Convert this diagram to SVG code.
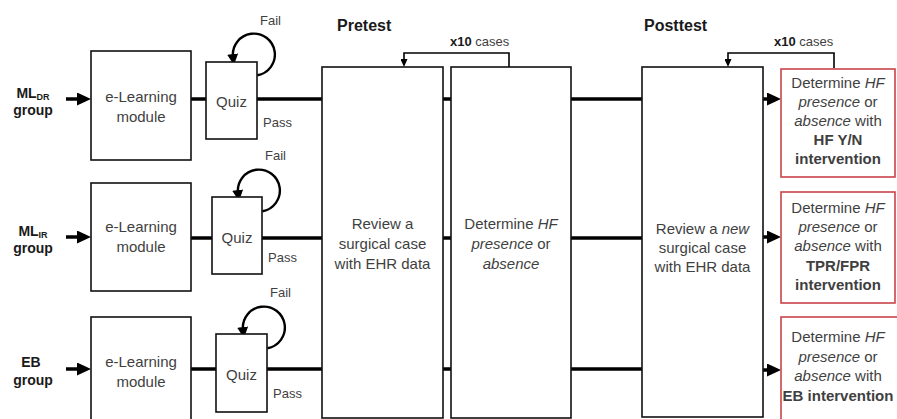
<svg xmlns="http://www.w3.org/2000/svg" width="897" height="419" viewBox="0 0 897 419">
<defs>
<style>
.box{fill:#fff;stroke:#111;stroke-width:1.6}
.rbox{fill:#fff;stroke:#c9444a;stroke-width:1.6}
.t{font-family:"Liberation Sans",Arial,sans-serif;font-size:15px;fill:#3f3f3f;text-anchor:middle}
.s{font-family:"Liberation Sans",Arial,sans-serif;font-size:13px;fill:#3f3f3f}
.g{font-family:"Liberation Sans",Arial,sans-serif;font-size:14px;font-weight:bold;fill:#1a1a1a;text-anchor:middle}
.h{font-family:"Liberation Sans",Arial,sans-serif;font-size:16px;font-weight:bold;fill:#1a1a1a}
.thick{stroke:#000;stroke-width:3.5;fill:none}
.thin{stroke:#000;stroke-width:1.6;fill:none}
.loop{stroke:#000;stroke-width:2.4;fill:none}
</style>
<marker id="big" viewBox="0 0 14 13" refX="4" refY="6.5" markerWidth="14" markerHeight="13" markerUnits="userSpaceOnUse" orient="auto">
<path d="M0,0 L14,6.5 L0,13 z" fill="#000"/>
</marker>
<marker id="small" viewBox="0 0 8 7" refX="2" refY="3.5" markerWidth="8" markerHeight="7" markerUnits="userSpaceOnUse" orient="auto">
<path d="M0,0 L8,3.5 L0,7 z" fill="#000"/>
</marker>
<marker id="loopHead" viewBox="0 0 11 11" refX="3" refY="5.5" markerWidth="11" markerHeight="11" markerUnits="userSpaceOnUse" orient="auto">
<path d="M0,0 L11,5.5 L0,11 z" fill="#000"/>
</marker>
</defs>
<rect width="897" height="419" fill="#fff"/>

<g id="connectors">
<!-- row 1 -->
<line class="thick" x1="66" y1="99" x2="81" y2="99" marker-end="url(#big)"/>
<line class="thick" x1="191" y1="99" x2="206" y2="99"/>
<line class="thick" x1="257" y1="99" x2="322" y2="99"/>
<line class="thick" x1="443" y1="99" x2="451" y2="99"/>
<line class="thick" x1="571" y1="99" x2="642" y2="99"/>
<line class="thick" x1="763" y1="99" x2="771" y2="99" marker-end="url(#big)"/>
<path class="loop" d="M257.4,75.3 A21,21 0 1 0 233,57" marker-end="url(#loopHead)"/>
<!-- row 2 -->
<line class="thick" x1="66" y1="237" x2="81" y2="237" marker-end="url(#big)"/>
<line class="thick" x1="191" y1="238" x2="212" y2="238"/>
<line class="thick" x1="262" y1="238" x2="322" y2="238"/>
<line class="thick" x1="443" y1="238" x2="451" y2="238"/>
<line class="thick" x1="571" y1="238" x2="642" y2="238"/>
<line class="thick" x1="763" y1="237" x2="771" y2="237" marker-end="url(#big)"/>
<path class="loop" d="M262.4,211.3 A21,21 0 1 0 238,193" marker-end="url(#loopHead)"/>
<!-- row 3 -->
<line class="thick" x1="66" y1="369" x2="81" y2="369" marker-end="url(#big)"/>
<line class="thick" x1="191" y1="369" x2="216" y2="369"/>
<line class="thick" x1="267" y1="369" x2="322" y2="369"/>
<line class="thick" x1="443" y1="369" x2="451" y2="369"/>
<line class="thick" x1="571" y1="369" x2="642" y2="369"/>
<line class="thick" x1="763" y1="370" x2="771" y2="370" marker-end="url(#big)"/>
<path class="loop" d="M267.4,348.3 A21,21 0 1 0 243,330" marker-end="url(#loopHead)"/>
<!-- x10 brackets -->
<path class="thin" d="M509,67 V53 H404 V61" marker-end="url(#small)"/>
<path class="thin" d="M834,68 V53 H728 V61" marker-end="url(#small)"/>
</g>

<g id="labels">
<text class="g" x="33" y="98">ML<tspan font-size="9" dy="2">DR</tspan></text>
<text class="g" x="33" y="115">group</text>
<text class="g" x="33" y="236">ML<tspan font-size="9" dy="2">IR</tspan></text>
<text class="g" x="33" y="253">group</text>
<text class="g" x="31" y="367">EB</text>
<text class="g" x="33" y="385">group</text>
<text class="h" x="337" y="31">Pretest</text>
<text class="h" x="644" y="31">Posttest</text>
<text class="s" x="450" y="46"><tspan font-weight="bold" fill="#1a1a1a">x10</tspan> cases</text>
<text class="s" x="774" y="46"><tspan font-weight="bold" fill="#1a1a1a">x10</tspan> cases</text>
<text class="s" x="260" y="25">Fail</text>
<text class="s" x="263" y="127">Pass</text>
<text class="s" x="265" y="160">Fail</text>
<text class="s" x="268" y="262">Pass</text>
<text class="s" x="270" y="297">Fail</text>
<text class="s" x="273" y="398">Pass</text>
</g>

<g id="elearn1"><rect class="box" x="91" y="51" width="100" height="109"/><text class="t" x="141" y="102">e-Learning</text><text class="t" x="141" y="122">module</text></g>
<g id="quiz1"><rect class="box" x="206" y="62" width="51" height="77"/><text class="t" x="231.5" y="107">Quiz</text></g>
<g id="elearn2"><rect class="box" x="91" y="183" width="100" height="108"/><text class="t" x="141" y="232">e-Learning</text><text class="t" x="141" y="252">module</text></g>
<g id="quiz2"><rect class="box" x="212" y="197" width="50" height="77"/><text class="t" x="237" y="243">Quiz</text></g>
<g id="elearn3"><rect class="box" x="91" y="317" width="100" height="110"/><text class="t" x="141" y="367">e-Learning</text><text class="t" x="141" y="387">module</text></g>
<g id="quiz3"><rect class="box" x="216" y="334" width="51" height="78"/><text class="t" x="241.5" y="380">Quiz</text></g>

<g id="review"><rect class="box" x="322" y="67" width="121" height="351"/>
<text class="t" x="382.5" y="229">Review a</text><text class="t" x="382.5" y="249">surgical case</text><text class="t" x="382.5" y="269">with EHR data</text></g>
<g id="determine"><rect class="box" x="451" y="67" width="120" height="351"/>
<text class="t" x="511" y="229">Determine <tspan font-style="italic">HF</tspan></text><text class="t" x="511" y="249"><tspan font-style="italic">presence</tspan> or</text><text class="t" x="511" y="269" font-style="italic">absence</text></g>
<g id="reviewNew"><rect class="box" x="642" y="67" width="121" height="350"/>
<text class="t" x="702.5" y="234">Review a <tspan font-style="italic">new</tspan></text><text class="t" x="702.5" y="253">surgical case</text><text class="t" x="702.5" y="272">with EHR data</text></g>

<g id="hfyn"><rect class="rbox" x="781" y="69" width="114" height="108"/>
<text class="t" x="838" y="88">Determine <tspan font-style="italic">HF</tspan></text>
<text class="t" x="838" y="107"><tspan font-style="italic">presence</tspan> or</text>
<text class="t" x="838" y="126"><tspan font-style="italic">absence</tspan> with</text>
<text class="t" x="838" y="145" font-weight="bold">HF Y/N</text>
<text class="t" x="838" y="164" font-weight="bold">intervention</text></g>
<g id="tprfpr"><rect class="rbox" x="781" y="192" width="114" height="111"/>
<text class="t" x="838" y="213">Determine <tspan font-style="italic">HF</tspan></text>
<text class="t" x="838" y="232"><tspan font-style="italic">presence</tspan> or</text>
<text class="t" x="838" y="251"><tspan font-style="italic">absence</tspan> with</text>
<text class="t" x="838" y="271" font-weight="bold">TPR/FPR</text>
<text class="t" x="838" y="290" font-weight="bold">intervention</text></g>
<g id="eb"><rect class="rbox" x="781" y="317" width="130" height="120"/>
<text class="t" x="838" y="342">Determine <tspan font-style="italic">HF</tspan></text>
<text class="t" x="838" y="362"><tspan font-style="italic">presence</tspan> or</text>
<text class="t" x="838" y="381"><tspan font-style="italic">absence</tspan> with</text>
<text class="t" x="838" y="401" font-weight="bold">EB intervention</text></g>
</svg>
